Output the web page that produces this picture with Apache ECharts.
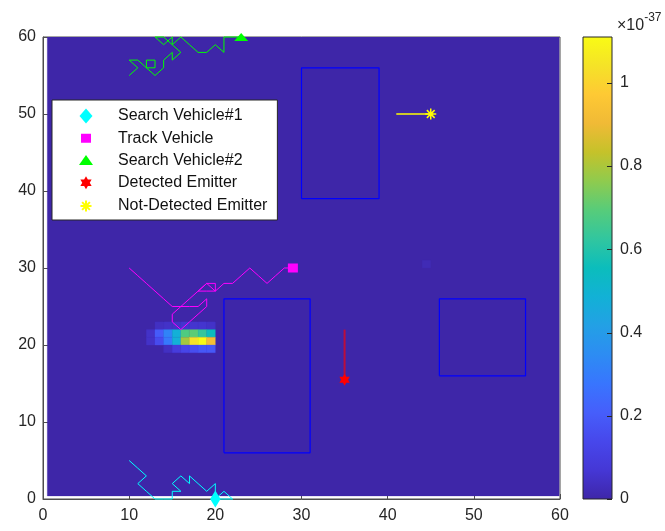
<!DOCTYPE html>
<html><head><meta charset="utf-8">
<script src="https://cdn.jsdelivr.net/npm/echarts@6.0.0/dist/echarts.min.js"></script>
<style>html,body{margin:0;padding:0;background:#fff}#c{width:665px;height:531px}</style>
</head><body><div id="c"></div>
<script>
// ---------- data ----------
const xTicks = [0, 10, 20, 30, 40, 50, 60];
const yTicks = [0, 10, 20, 30, 40, 50, 60];
const colorbarTicks = [0, 0.2, 0.4, 0.6, 0.8, 1];
const colorbarMax = 1.11;          // in units of 1e-37
const colorbarExponent = '-37';

const searchVehicle1Path = [[10,5],[11,4],[12,3],[11,2],[12,1],[13,0],[14,0],[15,0],[15,1],[16,1],[15,2],[16,3],[17,2],[17,3],[18,2],[19,1],[20,2],[20,1],[20,0],[21,1],[22,0],[21,0],[20,0]];
const trackVehiclePath = [[10,30],[11,29],[12,28],[13,27],[14,26],[15,25],[16,25],[17,25],[18,25],[19,26],[19,25],[18,24],[17,23],[16,22],[15,23],[15,24],[16,25],[17,26],[18,27],[19,28],[20,28],[20,27],[19,28],[18,27],[19,27],[20,27],[21,28],[22,28],[23,29],[24,30],[25,29],[26,28],[27,29],[28,30],[29,30]];
const searchVehicle2Path = [[10,55],[11,56],[10,57],[11,57],[12,56],[12,57],[13,57],[13,56],[12,56],[13,55],[14,56],[14,57],[15,58],[15,57],[16,58],[15,59],[14,60],[13,60],[14,59],[15,60],[15,59],[16,60],[17,59],[18,58],[19,58],[20,59],[21,58],[21,60],[23,60]];
const detectedEmitterTrack = [[35,22],[35,15.5]];
const notDetectedEmitterTrack = [[41,50],[45,50]];

const searchVehicle1Pos = [[20,0]];
const trackVehiclePos = [[29,30]];
const searchVehicle2Pos = [[23,60]];
const detectedEmitterPos = [[35,15.5]];
const notDetectedEmitterPos = [[45,50]];

// obstacles: [x0, x1, y0, y1]
const obstacles = [[30,39,39,56],[21,31,6,26],[46,56,16,26]];

// probability map: [col, row, value(x1e-37)], cell spans [col,col+1]x[row,row+1]
const heatCells = [
  [13,22,0.04],[14,22,0.05],[15,22,0.05],[16,22,0.06],[17,22,0.06],[18,22,0.06],[19,22,0.05],
  [12,21,0.05],[13,21,0.20],[14,21,0.32],[15,21,0.48],[16,21,0.68],[17,21,0.70],[18,21,0.63],[19,21,0.55],
  [12,20,0.05],[13,20,0.15],[14,20,0.29],[15,20,0.48],[16,20,0.79],[17,20,1.04],[18,20,1.11],[19,20,0.92],
  [14,19,0.04],[15,19,0.09],[16,19,0.13],[17,19,0.16],[18,19,0.19],[19,19,0.19],
  [44,30,0.02]
];
const imageExtent = [0.5, 59.9, 0.4, 60.5]; // x0,x1,y0,y1 of the zero-valued map

const legendNames = ['Search Vehicle#1','Track Vehicle','Search Vehicle#2','Detected Emitter','Not-Detected Emitter'];

const parula = ['#3E26A8','#4537D5','#4747EB','#465EFB','#3875FE','#2D8CF3','#23A0E5','#12B1D6','#0BBDBC','#31C69F','#57CC7A','#8FCB4E','#C5C22A','#F0BA36','#FEC934','#F5E327','#F9FB15'];

// ---------- shapes ----------
const FONT = "'Liberation Sans', Arial, Helvetica, sans-serif";
const shp = {
  diamond: 'M0,-7.5L6.5,0L0,7.5L-6.5,0Z',
  square: 'M-5,-4.5L5,-4.5L5,4.5L-5,4.5Z',
  triangle: 'M0,-5.5L7,4.5L-7,4.5Z',
  hexagram: (function(){let s='';for(let k=0;k<12;k++){const r=k%2?3.75:6.5;const a=Math.PI/2-k*Math.PI/6;s+=(k?'L':'M')+(r*Math.cos(a)).toFixed(2)+','+(-r*Math.sin(a)).toFixed(2);}return s+'Z';})(),
  asterisk: (function(){let s='';for(let k=0;k<4;k++){const a=k*Math.PI/4;const dx=(5.5*Math.cos(a)).toFixed(2),dy=(5.5*Math.sin(a)).toFixed(2);s+='M'+dx+','+dy+'L'+(-dx)+','+(-dy);}return s;})()
};
const frame = 'M-10,-8M27,8';

// ---------- build ----------
const rectPts = (o) => [[o[0],o[2]],[o[1],o[2]],[o[1],o[3]],[o[0],o[3]],[o[0],o[2]]];
const cellData = [[imageExtent[0], imageExtent[1], imageExtent[2], imageExtent[3], 0]]
  .concat(heatCells.map(c => [c[0], c[0]+1, c[1], c[1]+1, c[2]]));

function lineSeries(data, color, width, opacity) {
  return {type:'line', data, symbol:'none', clip:false, silent:true, z:4,
    lineStyle:{color, width: width||1, opacity: opacity==null?1:opacity}, animation:false};
}
function markerSeries(name, data, sym, size, color, stroke) {
  return {type:'scatter', name, data, symbol:'path://'+sym, symbolSize:size, symbolKeepAspect:true,
    clip:false, z:6, animation:false,
    itemStyle: stroke ? {color:color, borderColor:color, borderWidth:1.5, opacity:1} : {color:color, opacity:1}};
}

const series = [
  {type:'custom', clip:true, z:1, animation:false, silent:true, data: cellData,
    encode:{x:[0,1], y:[2,3]},
    renderItem(params, api){
      const p0 = api.coord([api.value(0), api.value(3)]);
      const p1 = api.coord([api.value(1), api.value(2)]);
      return {type:'rect', shape:{x:p0[0], y:p0[1], width:p1[0]-p0[0], height:p1[1]-p0[1]},
        style:{fill: api.visual('color'), stroke: api.visual('color'), lineWidth:0.3}};
    }},
  ...obstacles.map(o => lineSeries(rectPts(o), '#0000FF', 1.2)),
  lineSeries(searchVehicle1Path, '#00FFFF', 1),
  lineSeries(trackVehiclePath, '#FF00FF', 1),
  lineSeries(searchVehicle2Path, '#00FF00', 1),
  lineSeries(detectedEmitterTrack, '#FF0000', 2, 0.65),
  lineSeries(notDetectedEmitterTrack, '#FFFF00', 1.5),
  markerSeries(legendNames[0], searchVehicle1Pos, shp.diamond, [12,17], '#00FFFF'),
  markerSeries(legendNames[1], trackVehiclePos, shp.square, [10,10], '#FF00FF'),
  markerSeries(legendNames[2], searchVehicle2Pos, shp.triangle, [14,11], '#00FF00'),
  markerSeries(legendNames[3], detectedEmitterPos, shp.hexagram, [12,12], '#FF0000'),
  markerSeries(legendNames[4], notDetectedEmitterPos, shp.asterisk, [11,11], '#FFFF00', true),
  {type:'custom', xAxisIndex:1, yAxisIndex:1, z:2, silent:true, animation:false,
    data:[[0,1,0,colorbarMax]],
    renderItem(params, api){
      const p0 = api.coord([api.value(0), api.value(3)]);
      const p1 = api.coord([api.value(1), api.value(2)]);
      const stops = parula.map((c,i)=>({offset:i/(parula.length-1), color:c}));
      const children = [{type:'rect', shape:{x:p0[0], y:p0[1], width:p1[0]-p0[0], height:p1[1]-p0[1]},
        style:{fill: new echarts.graphic.LinearGradient(0,1,0,0,stops), stroke:'#262626', lineWidth:1}}];
      colorbarTicks.forEach(t => {
        const p = api.coord([api.value(1), t]);
        const y = Math.round(p[1]) + 0.5;
        children.push({type:'line', shape:{x1:p[0]-5, y1:y, x2:p[0], y2:y}, style:{stroke:'#262626', lineWidth:1}});
      });
      return {type:'group', children};
    }}
];

const axisCommon = {
  axisLine:{show:true, lineStyle:{color:'#4d4d4d', width:1}},
  axisTick:{show:true, inside:true, length:5, lineStyle:{color:'#4d4d4d'}},
  splitLine:{show:false},
  axisLabel:{color:'#262626', fontSize:16, fontFamily:FONT}
};

const option = {
  animation:false,
  backgroundColor:'#fff',
  title:{
    text:'{a|×10}{b|' + colorbarExponent + '}', left:612, top:7,
    textStyle:{fontWeight:'normal', rich:{
      a:{fontSize:16, fontFamily:FONT, fontWeight:'normal', color:'#262626', lineHeight:22, verticalAlign:'bottom'},
      b:{fontSize:12, fontFamily:FONT, fontWeight:'normal', color:'#262626', lineHeight:12, verticalAlign:'top'}
    }}
  },
  grid:[
    {left:43, top:37, width:517, height:462, show:true, borderColor:'#4d4d4d', borderWidth:1, backgroundColor:'transparent', outerBoundsMode:'none', containLabel:false},
    {left:583, top:37, width:29, height:462, show:false, outerBoundsMode:'none', containLabel:false}
  ],
  xAxis:[
    Object.assign({}, axisCommon, {type:'value', min:xTicks[0], max:xTicks[xTicks.length-1], interval:10, gridIndex:0,
      axisLabel:Object.assign({}, axisCommon.axisLabel, {margin:9, formatter:v=>xTicks.includes(v)?String(v):''})}),
    {type:'value', gridIndex:1, min:0, max:1, show:false}
  ],
  yAxis:[
    Object.assign({}, axisCommon, {type:'value', min:yTicks[0], max:yTicks[yTicks.length-1], interval:10, gridIndex:0,
      axisLabel:Object.assign({}, axisCommon.axisLabel, {margin:7, formatter:v=>yTicks.includes(v)?String(v):''})}),
    {type:'value', gridIndex:1, position:'right', min:0, max:colorbarMax, interval:0.2,
      axisLine:{show:false}, splitLine:{show:false}, axisTick:{show:false},
      axisLabel:{color:'#262626', fontSize:16, fontFamily:FONT, margin:8,
        formatter:v=>{const t=colorbarTicks.find(x=>Math.abs(x-v)<1e-6);return t==null?'':String(t);}}}
  ],
  visualMap:{type:'continuous', show:false, min:0, max:colorbarMax, dimension:4, seriesIndex:0,
    inRange:{color:parula}},
  legend:{
    orient:'vertical', left:52, top:100, padding:[8,10,5,23],
    itemWidth:37, itemHeight:16, itemGap:6.25,
    backgroundColor:'#ffffff', borderColor:'#262626', borderWidth:1, borderRadius:0,
    symbolKeepAspect:true, selectedMode:false,
    textStyle:{fontSize:16, fontFamily:FONT, color:'#111'},
    data:[
      {name:legendNames[0], icon:'path://'+frame+shp.diamond},
      {name:legendNames[1], icon:'path://'+frame+shp.square},
      {name:legendNames[2], icon:'path://'+frame+shp.triangle},
      {name:legendNames[3], icon:'path://'+frame+shp.hexagram},
      {name:legendNames[4], icon:'path://'+frame+shp.asterisk}
    ]
  },
  series
};
const chart = echarts.init(document.getElementById('c'), null, {renderer:'canvas'});
chart.setOption(option);
</script></body></html>
